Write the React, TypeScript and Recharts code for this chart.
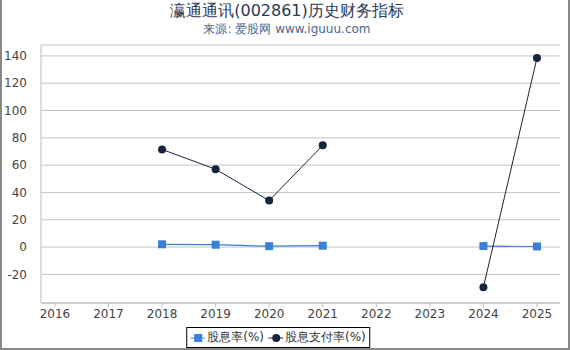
import React from 'react';
import {
    LineChart,
    Line,
    XAxis,
    YAxis,
    CartesianGrid
} from 'recharts';

// 年份和两个指标序列
const years = [2016, 2017, 2018, 2019, 2020, 2021, 2022, 2023, 2024, 2025];
const dividendYield: (number | null)[] = [null, null, 2.0, 1.7, 0.6, 1.0, null, null, 0.7, 0.4];
const payoutRatio: (number | null)[] = [null, null, 71.5, 57.0, 34.0, 74.5, null, null, -29.5, 138.5];
const yTicks = [-20, 0, 20, 40, 60, 80, 100, 120, 140];

const title = '瀛通通讯(002861)历史财务指标';
const subtitle = '来源: 爱股网 www.iguuu.com';
const seriesNames = ['股息率(%)', '股息支付率(%)'];

const BLUE = '#3a80d8';
const NAVY = '#16243c';
const FONT = '"DejaVu Sans", sans-serif';

const chartData = years.map((y, i) => ({
    year: y,
    yield: dividendYield[i],
    payout: payoutRatio[i]
}));

// square marker for 股息率
const SquareDot = (props: any) => {
    const { cx, cy, value } = props;
    if (value == null || cx == null || cy == null) return null;
    return <rect x={cx - 4} y={cy - 4} width={8} height={8} fill={BLUE} />;
};

const CircleDot = (props: any) => {
    const { cx, cy, value } = props;
    if (value == null || cx == null || cy == null) return null;
    return <circle cx={cx} cy={cy} r={4} fill={NAVY} />;
};

const LegendBox = () => (
    <div
        style={{
            position: 'absolute',
            left: 276,
            top: 327,
            transform: 'translateX(-50%)',
            height: 19,
            padding: '0 3px',
            border: '1px solid #000',
            display: 'flex',
            alignItems: 'center',
            gap: 4,
            whiteSpace: 'nowrap',
            fontFamily: FONT,
            fontSize: 12,
            color: '#333',
            background: '#fff'
        }}
    >
        <span style={{ display: 'flex', alignItems: 'center', gap: 2 }}>
            <svg width={15} height={10}>
                <line x1={0} y1={5} x2={15} y2={5} stroke={BLUE} strokeWidth={1.5} opacity={0.6} />
                <rect x={4} y={1} width={8} height={8} fill={BLUE} />
            </svg>
            {seriesNames[0]}
        </span>
        <span style={{ display: 'flex', alignItems: 'center', gap: 2 }}>
            <svg width={15} height={10}>
                <line x1={0} y1={5} x2={15} y2={5} stroke={NAVY} strokeWidth={1} />
                <circle cx={8} cy={5} r={4} fill={NAVY} />
            </svg>
            {seriesNames[1]}
        </span>
    </div>
);

export default function App() {
    return (
        <div
            style={{
                position: 'absolute',
                left: 0,
                top: 0,
                width: 570,
                height: 350,
                background: '#fff',
                boxSizing: 'border-box',
                borderLeft: '2px solid #888',
                borderRight: '2px solid #888',
                borderBottom: '2px solid #888',
                overflow: 'hidden'
            }}
        >
            {/* Title */}
            <div
                style={{
                    position: 'absolute',
                    top: 1,
                    left: 0,
                    width: 570,
                    textAlign: 'center',
                    fontFamily: FONT,
                    fontSize: 16,
                    color: '#2b3a55'
                }}
            >
                {title}
            </div>
            <div
                style={{
                    position: 'absolute',
                    top: 21,
                    left: 0,
                    width: 570,
                    textAlign: 'center',
                    fontFamily: FONT,
                    fontSize: 12,
                    color: '#4a6890'
                }}
            >
                {subtitle}
            </div>

            <div style={{ position: 'absolute', left: -2, top: 0 }}>
                <LineChart
                    width={570}
                    height={350}
                    data={chartData}
                    margin={{ top: 45, right: 10, bottom: 27, left: 0 }}
                >
                    <CartesianGrid vertical={false} stroke="#c4c4c4" />
                    <XAxis
                        dataKey="year"
                        type="number"
                        domain={[2015.74, 2025.43]}
                        ticks={years}
                        allowDataOverflow
                        height={20}
                        stroke="#bbb"
                        tickSize={4}
                        tickMargin={2}
                        tick={{ fill: '#444', fontSize: 12, fontFamily: FONT }}
                    />
                    <YAxis
                        domain={[-41, 148]}
                        ticks={yTicks}
                        allowDataOverflow
                        width={41}
                        stroke="#bbb"
                        tickLine={false}
                        tickMargin={8}
                        tick={{ fill: '#444', fontSize: 12, fontFamily: FONT }}
                    />
                    <Line
                        dataKey="yield"
                        stroke={BLUE}
                        strokeWidth={1.2}
                        dot={<SquareDot />}
                        activeDot={false}
                        connectNulls={false}
                        isAnimationActive={false}
                    />
                    <Line
                        dataKey="payout"
                        stroke={NAVY}
                        strokeWidth={1}
                        dot={<CircleDot />}
                        activeDot={false}
                        connectNulls={false}
                        isAnimationActive={false}
                    />
                </LineChart>
            </div>
            <LegendBox />
        </div>
    );
}
